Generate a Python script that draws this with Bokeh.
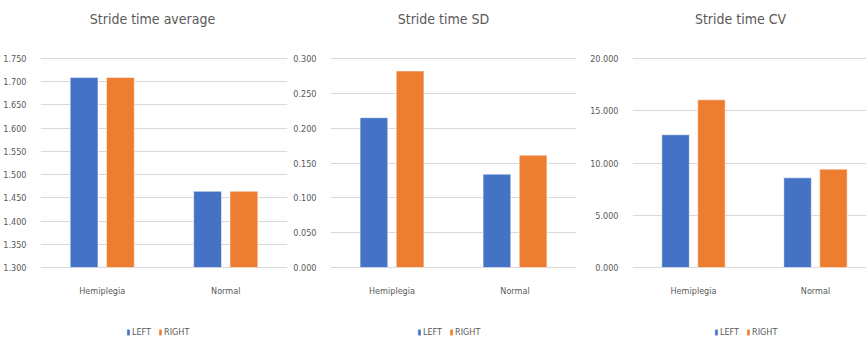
from bokeh.plotting import figure
from bokeh.layouts import row
from bokeh.models import (Range1d, FixedTicker, NumeralTickFormatter, Legend, LegendItem,
                          ColumnDataSource, Label)
from bokeh.core.properties import value
from bokeh.embed import file_html
from bokeh.resources import INLINE

categories = ["Hemiplegia", "Normal"]
series_names = ["LEFT", "RIGHT"]

avg_left = [1.709, 1.464]
avg_right = [1.709, 1.464]
sd_left = [0.215, 0.134]
sd_right = [0.282, 0.161]
cv_left = [12.70, 8.58]
cv_right = [16.05, 9.41]

titles = ["Stride time average", "Stride time SD", "Stride time CV"]
y_ticks_avg = [1.30, 1.35, 1.40, 1.45, 1.50, 1.55, 1.60, 1.65, 1.70, 1.75]
y_ticks_sd = [0.0, 0.05, 0.10, 0.15, 0.20, 0.25, 0.30]
y_ticks_cv = [0, 5, 10, 15, 20]

FONT = "DejaVu Sans Condensed"
TEXT = "#595959"
GRID = "#D9D9D9"
BLUE = "#4472C4"
ORANGE = "#ED7D31"

H = 342
PLOT_TOP = 58      # px of top tick from canvas top
PLOT_BOTTOM = 267  # px of bottom tick from canvas top


def panel(title, left, right, ticks, width, border_left, border_right, x_end, title_x, legend_x):
    xs = [i + 0.5 for i in range(len(categories))]
    src = ColumnDataSource(dict(
        xl=[x - 0.147 for x in xs], xr=[x + 0.147 for x in xs], left=left, right=right))
    span = ticks[-1] - ticks[0]
    upp = span / (PLOT_BOTTOM - PLOT_TOP)
    y0 = ticks[0] - (H - PLOT_BOTTOM) * upp
    y1 = ticks[-1] + PLOT_TOP * upp
    p = figure(width=width, height=H, output_backend="svg", toolbar_location=None,
               x_range=Range1d(0, x_end), y_range=Range1d(y0, y1),
               min_border_left=border_left, min_border_right=border_right,
               min_border_top=0, min_border_bottom=0)
    p.outline_line_color = None
    p.background_fill_color = "white"
    p.border_fill_color = "white"

    bl = p.vbar(x="xl", top="left", bottom=ticks[0], width=0.225, source=src,
                fill_color=BLUE, line_color="white", line_alpha=0.5, line_width=1)
    br = p.vbar(x="xr", top="right", bottom=ticks[0], width=0.225, source=src,
                fill_color=ORANGE, line_color="white", line_alpha=0.5, line_width=1)

    p.text(x=xs, y=[ticks[0]] * len(xs), text=categories, y_offset=23,
           text_align="center", text_baseline="middle", text_font=value(FONT),
           text_font_size="9px", text_color=TEXT)

    p.xgrid.grid_line_color = None
    p.ygrid.grid_line_color = GRID
    p.ygrid.grid_line_width = 1
    p.ygrid.level = "underlay"
    p.xaxis.visible = False

    p.yaxis.ticker = FixedTicker(ticks=ticks)
    p.yaxis.formatter = NumeralTickFormatter(format="0.000")
    ax = p.yaxis[0]
    ax.axis_line_color = None
    ax.major_tick_line_color = None
    ax.minor_tick_line_color = None
    ax.major_label_text_font = FONT
    ax.major_label_text_font_size = "9px"
    ax.major_label_text_color = TEXT
    ax.major_label_standoff = 8

    p.add_layout(Label(x=title_x, y=H - 18, x_units="screen", y_units="screen", text=title,
                       text_align="center", text_baseline="middle", text_font=FONT,
                       text_font_size="14px", text_color=TEXT))

    legend = Legend(items=[LegendItem(label=series_names[0], renderers=[bl]),
                           LegendItem(label=series_names[1], renderers=[br])],
                    orientation="horizontal", location=(legend_x, 5),
                    glyph_width=4, glyph_height=8, label_standoff=2, spacing=6,
                    padding=0, margin=0, border_line_color=None, background_fill_alpha=0,
                    label_text_font=FONT, label_text_font_size="9px", label_text_color=TEXT,
                    label_height=10)
    p.add_layout(legend, "center")
    return p


p1 = panel(titles[0], avg_left, avg_right, y_ticks_avg, 290, 40, 3, 2.0, 112, 86)
p2 = panel(titles[1], sd_left, sd_right, y_ticks_sd, 290, 37, 4, 2.0, 113, 87)
p3 = panel(titles[2], cv_left, cv_right, y_ticks_cv, 286, 52, 0, 234 / 122, 108, 82)

p = row(p1, p2, p3)
open("out.html", "w").write(file_html(p, INLINE))
